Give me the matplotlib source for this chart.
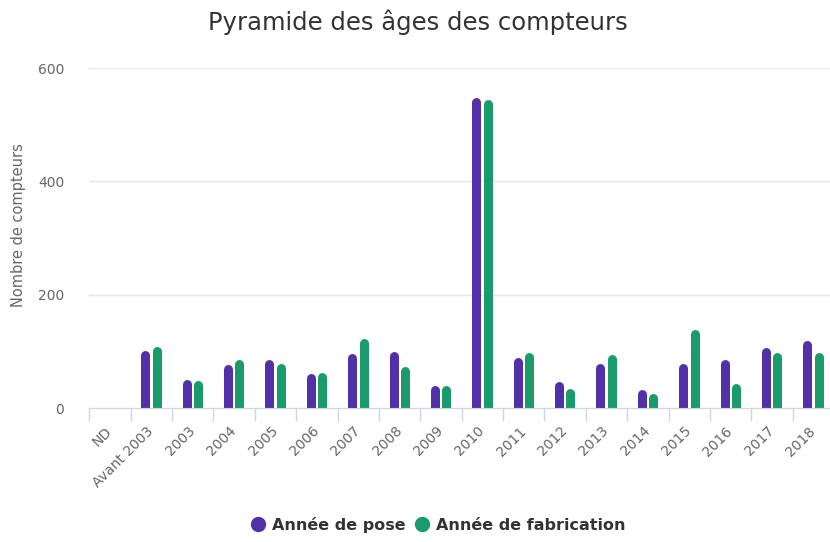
import numpy as np
import matplotlib
matplotlib.use("Agg")
import matplotlib.pyplot as plt
from matplotlib.lines import Line2D

categories = ["ND", "Avant 2003", "2003", "2004", "2005", "2006", "2007", "2008", "2009",
              "2010", "2011", "2012", "2013", "2014", "2015", "2016", "2017", "2018"]
pose = [0, 102, 50, 76, 86, 61, 96, 100, 40, 548, 89, 46, 79, 33, 79, 86, 106, 119]
fabrication = [0, 108, 48, 86, 79, 63, 123, 73, 40, 544, 98, 35, 94, 25, 139, 44, 98, 98]
y_ticks = [0, 200, 400, 600]

PURPLE = "#5230a8"
GREEN = "#1a9b6b"
DPI = 100

plt.rcParams["font.family"] = "DejaVu Sans"

fig = plt.figure(figsize=(8.30, 5.42), dpi=DPI)
ax = fig.add_axes([89.3 / 830, 134 / 542, (834 - 89.3) / 830, 340 / 542])
ax.set_xlim(-0.5, len(categories) - 0.5)
ax.set_ylim(0, 600)

# rounded bars: thick lines with round caps, shortened by the cap radius
bar_px = 9
lw = bar_px * 72 / DPI
r_units = (bar_px / 2) / (340 / 600)
x = np.arange(len(categories))
for vals, off, color in [(pose, -0.145, PURPLE), (fabrication, 0.13, GREEN)]:
    v = np.array(vals, dtype=float)
    keep = v > 0
    ax.vlines(x[keep] + off, -r_units, v[keep] - r_units, colors=color,
              linewidth=lw, capstyle="round", zorder=3)

ax.set_yticks(y_ticks)
ax.yaxis.grid(True, color="#e6e6e6", linewidth=1)
ax.set_axisbelow(True)
ax.tick_params(axis="y", length=0, labelsize=10, labelcolor="#666666", pad=18)

ax.set_xticks(x)
ax.set_xticklabels(categories, rotation=45, ha="right", va="center", rotation_mode="anchor")
ax.tick_params(axis="x", which="major", length=0, labelsize=10, labelcolor="#666666", pad=15)
ax.set_xticks(np.arange(len(categories) + 1) - 0.5, minor=True)
ax.tick_params(axis="x", which="minor", length=9, color="#ccd6eb", width=1)

for side in ["top", "right", "left"]:
    ax.spines[side].set_visible(False)
ax.spines["bottom"].set_color("#ccd6eb")
ax.spines["bottom"].set_zorder(4)

fig.text(18 / 830, 1 - 225 / 542, "Nombre de compteurs", rotation=90, ha="center",
         va="center", fontsize=10.5, color="#666666")
fig.text(418 / 830, 1 - 22 / 542, "Pyramide des âges des compteurs", ha="center",
         va="center", fontsize=17.5, color="#333333")

handles = [
    Line2D([], [], linestyle="none", marker="o", markersize=10, color=PURPLE, label="Année de pose"),
    Line2D([], [], linestyle="none", marker="o", markersize=10, color=GREEN, label="Année de fabrication"),
]
fig.legend(handles=handles, loc="center", bbox_to_anchor=(438 / 830, 1 - 525 / 542), ncol=2,
           frameon=False, handletextpad=0.4, columnspacing=0.5,
           prop={"weight": "bold", "size": 11.5}, labelcolor="#333333", handlelength=1.0)

fig.savefig("out.png", dpi=DPI)
